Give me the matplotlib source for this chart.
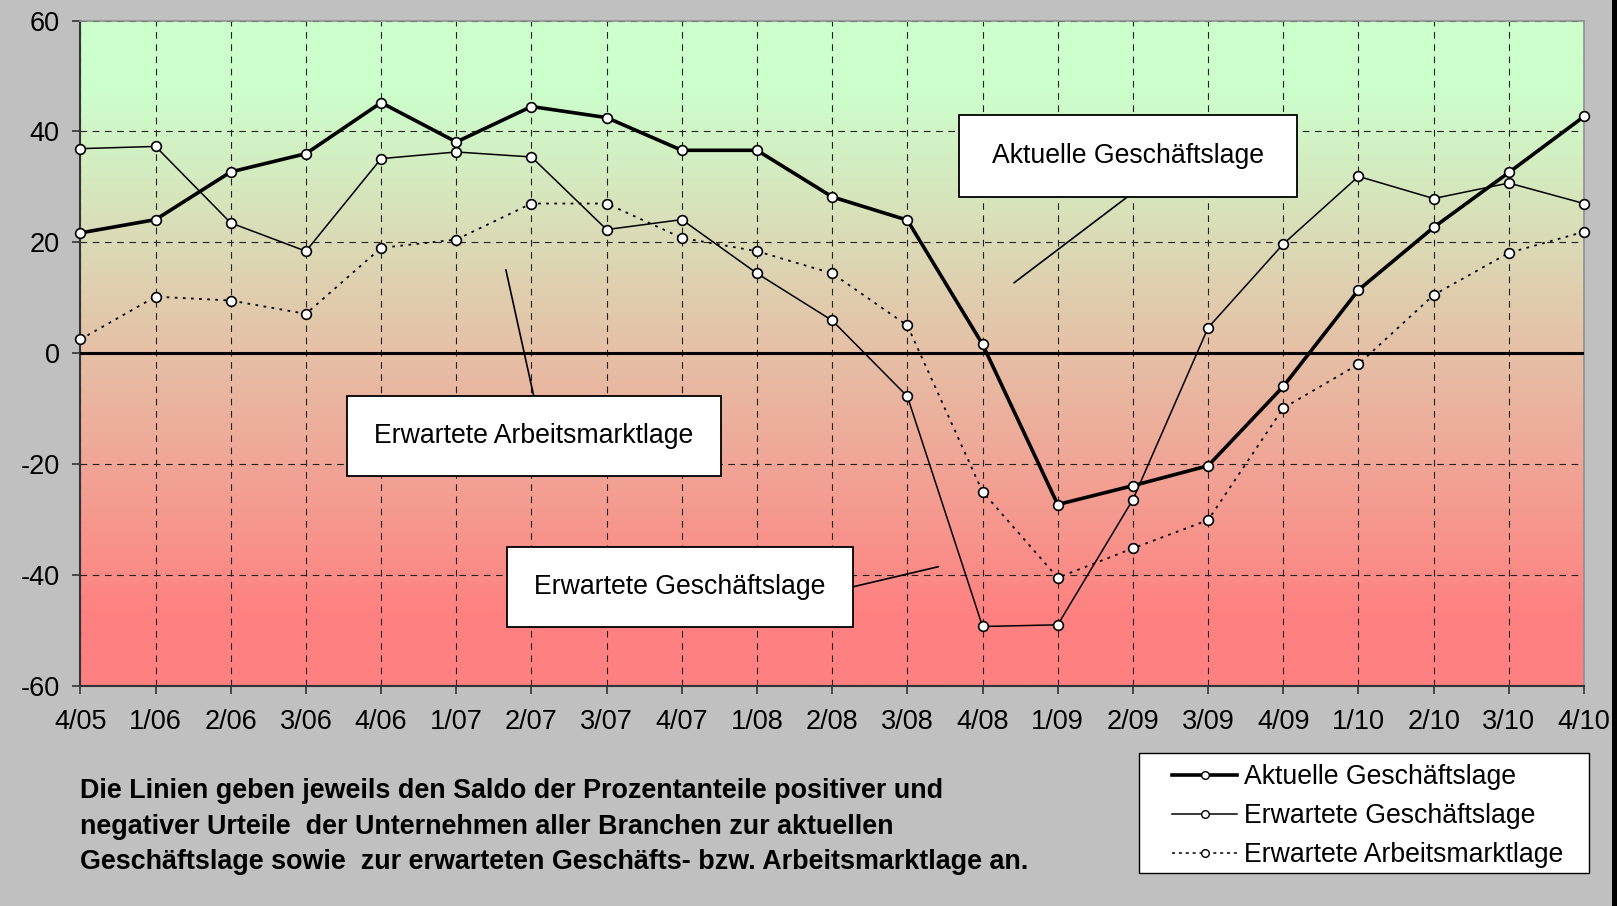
import numpy as np
import matplotlib
matplotlib.use('Agg')
import matplotlib.pyplot as plt
from matplotlib.patches import Rectangle
from matplotlib.lines import Line2D

plt.rcParams['font.family'] = ['Liberation Sans', 'DejaVu Sans']
plt.rcParams['axes.unicode_minus'] = False

# quarters (Quartal/Jahr)
quarters = ['4/05', '1/06', '2/06', '3/06', '4/06', '1/07', '2/07', '3/07', '4/07',
            '1/08', '2/08', '3/08', '4/08', '1/09', '2/09', '3/09', '4/09',
            '1/10', '2/10', '3/10', '4/10']

aktuell = [21.7, 24.1, 32.7, 36.0, 45.2, 38.1, 44.5, 42.5, 36.6, 36.6, 28.2,
           24.0, 1.6, -27.3, -23.9, -20.3, -6.0, 11.4, 22.7, 32.6, 42.7]
erw_gesch = [36.9, 37.3, 23.5, 18.4, 35.1, 36.3, 35.4, 22.3, 24.1, 14.4, 5.9,
             -7.8, -49.3, -49.0, -26.4, 4.6, 19.7, 31.9, 27.9, 30.7, 27.0]
erw_arbeit = [2.5, 10.2, 9.5, 7.1, 19.0, 20.5, 27.0, 27.0, 20.8, 18.4, 14.4,
              5.0, -25.0, -40.5, -35.2, -30.1, -9.9, -2.0, 10.5, 18.1, 21.9]

series_names = ['Aktuelle Geschäftslage', 'Erwartete Geschäftslage',
                'Erwartete Arbeitsmarktlage']

footnote = ['Die Linien geben jeweils den Saldo der Prozentanteile positiver und',
            'negativer Urteile  der Unternehmen aller Branchen zur aktuellen',
            'Geschäftslage sowie  zur erwarteten Geschäfts- bzw. Arbeitsmarktlage an.']

W, H = 1617, 906
fig = plt.figure(figsize=(W / 100, H / 100), dpi=100, facecolor='#c0c0c0')
ax = fig.add_axes([80.4 / W, 1 - 685.8 / H, (1584 - 80.4) / W, 665.2 / H])

x = np.arange(len(quarters))
ax.set_xlim(0, len(quarters) - 1)
ax.set_ylim(-60, 60)

# background gradient green -> red (flat ends)
top = np.array([204, 255, 204]) / 255
bot = np.array([255, 128, 128]) / 255
t = np.clip((np.linspace(0, 1, 256) - 0.1) / 0.8, 0, 1)[:, None]
img = (top + (bot - top) * t).reshape(256, 1, 3)
ax.imshow(img, extent=[0, len(quarters) - 1, -60, 60], aspect='auto',
          origin='upper', zorder=0)

ax.set_axisbelow(True)
ax.grid(True, color='#222222', lw=0.8, linestyle=(0, (6, 5)))
ax.axhline(0, color='k', lw=2.2, zorder=3)

mk = dict(marker='o', ms=7, mfc='white', mec='k', mew=1.2, color='k', clip_on=False)
ax.plot(x, erw_arbeit, linestyle=(0, (1.5, 3)), lw=1.3, zorder=4, **mk)
ax.plot(x, erw_gesch, '-', lw=1.1, zorder=5, **mk)
ax.plot(x, aktuell, '-', lw=2.6, zorder=6, **mk)

ax.set_yticks(range(-60, 61, 20))
ax.set_xticks(x, quarters)
ax.tick_params(axis='y', length=6, width=1.2, pad=9, labelsize=19.5, color='#333333')
ax.tick_params(axis='x', length=6, width=1.2, pad=11, labelsize=19.5, color='#333333')
for s in ['left', 'bottom']:
    ax.spines[s].set_color('#333333')
    ax.spines[s].set_linewidth(1.5)
for s in ['top', 'right']:
    ax.spines[s].set_color('#909090')
    ax.spines[s].set_linewidth(1.2)

# label boxes with leader lines
boxes = [
    (11.68, 28.23, 4.50, 14.74, 'Aktuelle Geschäftslage', (13.93, 12.42), (28.23, 12.71)),
    (3.54, -22.23, 4.98, 14.50, 'Erwartete Arbeitsmarktlage', (6.03, 5.66), (-7.73, 15.0)),
    (5.67, -49.45, 4.61, 14.55, 'Erwartete Geschäftslage', (10.28, 11.41), (-42.13, -38.52)),
]
for bx, by, bw, bh, txt, lx, ly in boxes:
    ax.plot(lx, ly, color='k', lw=1.2, zorder=7)
    ax.add_patch(Rectangle((bx, by), bw, bh, facecolor='white', edgecolor='k',
                           lw=1.3, zorder=8))
    ax.text(bx + bw / 2, by + bh / 2, txt, ha='center', va='center',
            fontsize=19.2, zorder=9)

# legend, drawn by hand in figure pixels
tf = fig.transFigure
fig.add_artist(Rectangle((1139 / W, 1 - 873 / H), 450 / W, 120 / H, transform=tf,
                         facecolor='white', edgecolor='k', lw=1.0))
styles = [dict(lw=2.6, linestyle='-'), dict(lw=1.1, linestyle='-'),
          dict(lw=1.1, linestyle=(0, (2, 2.5)))]
rows = [774.5, 813.7, 852.8]
for name, st, ry in zip(series_names, styles, rows):
    yy = 1 - ry / H
    fig.add_artist(Line2D([1172 / W, 1204.5 / W, 1237 / W], [yy, yy, yy], transform=tf,
                          color='k', marker='o', ms=5.5, mfc='white', mec='k',
                          markevery=[1], **st))
    fig.text(1244 / W, 1 - (ry + 2) / H, name, fontsize=19.2, va='center', ha='left')

for i, line in enumerate(footnote):
    fig.text(80 / W, 1 - (791 + 35.5 * i) / H, line, fontsize=19.4,
             fontweight='bold', va='center', ha='left')

fig.patches.append(Rectangle((1612 / W, 0), 5 / W, 1, transform=tf,
                             facecolor='black', edgecolor='none', zorder=20))

fig.savefig('out.png', dpi=100, facecolor=fig.get_facecolor())
